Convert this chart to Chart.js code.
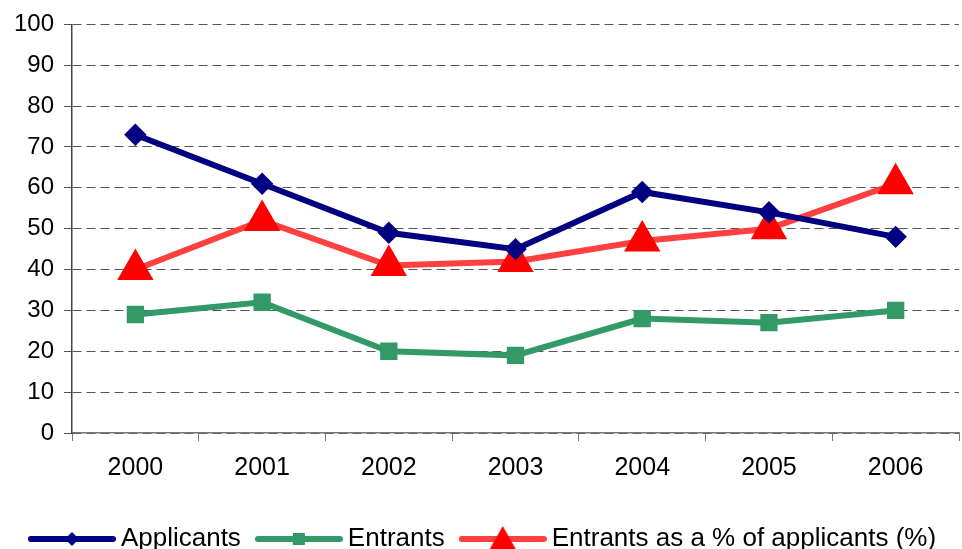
<!DOCTYPE html>
<html><head><meta charset="utf-8">
<script src="https://cdn.jsdelivr.net/npm/chart.js@4.4.1/dist/chart.umd.min.js"></script>
<style>html,body{margin:0;padding:0;background:#fff}#wrap{width:962px;height:549px}</style>
</head><body><div id="wrap"><canvas id="c" width="962" height="549"></canvas></div>
<script>
const categories = ['2000','2001','2002','2003','2004','2005','2006'];
const applicants = [73, 61, 49, 45, 59, 54, 48];
const entrants = [29, 32, 20, 19, 28, 27, 30];
const entrantsPct = [40, 52, 41, 42, 47, 50, 61];
const seriesNames = ['Applicants', 'Entrants', 'Entrants as a % of applicants (%)'];

const FONT = "'Liberation Sans', Arial, sans-serif";

function legendImg(color, markerColor, shape) {
  const c = document.createElement('canvas');
  c.width = 88; c.height = 30;
  const g = c.getContext('2d');
  g.strokeStyle = color; g.lineWidth = 6; g.lineCap = 'round';
  g.beginPath(); g.moveTo(3, 15); g.lineTo(85, 15); g.stroke();
  g.fillStyle = markerColor;
  const cx = 44, cy = 15;
  g.beginPath();
  if (shape === 'diamond') {
    g.moveTo(cx, cy - 7); g.lineTo(cx + 7, cy); g.lineTo(cx, cy + 7); g.lineTo(cx - 7, cy);
  } else if (shape === 'square') {
    g.rect(cx - 6, cy - 6, 12, 12);
  } else {
    g.moveTo(cx, cy - 13); g.lineTo(cx + 13, cy + 10); g.lineTo(cx - 13, cy + 10);
  }
  g.closePath(); g.fill();
  return c;
}

const legendImages = [
  legendImg('#000080', '#000080', 'diamond'),
  legendImg('#339966', '#339966', 'square'),
  legendImg('#ff4040', '#ff0000', 'triangle')
];

new Chart(document.getElementById('c'), {
  type: 'line',
  data: {
    labels: categories,
    datasets: [
      { label: seriesNames[0], data: applicants, borderColor: '#000080', backgroundColor: '#000080',
        borderWidth: 6, pointStyle: 'rectRot', pointRadius: 7, pointHoverRadius: 7, tension: 0 },
      { label: seriesNames[1], data: entrants, borderColor: '#339966', backgroundColor: '#339966',
        borderWidth: 6, pointStyle: 'rect', pointRadius: 8, pointHoverRadius: 8, tension: 0 },
      { label: seriesNames[2], data: entrantsPct, borderColor: '#ff4040', backgroundColor: '#ff0000',
        pointBorderColor: '#ff0000', borderWidth: 6, pointStyle: 'triangle', pointRadius: 15, pointHoverRadius: 15, tension: 0 }
    ]
  },
  options: {
    responsive: false,
    animation: false,
    layout: { autoPadding: false, padding: { left: 13, right: 3, top: 10, bottom: -13 } },
    plugins: {
      tooltip: { enabled: false },
      legend: {
        position: 'bottom',
        labels: {
          font: { family: FONT, size: 26 },
          color: '#000',
          usePointStyle: true,
          pointStyleWidth: 72,
          padding: 22,
          generateLabels: (chart) => chart.data.datasets.map((ds, i) => ({
            text: ds.label, pointStyle: legendImages[i], fillStyle: ds.borderColor,
            strokeStyle: ds.borderColor, lineWidth: 0, hidden: false, datasetIndex: i, fontColor: '#000'
          }))
        }
      }
    },
    scales: {
      x: {
        offset: true,
        afterFit: (s) => { s.height += 9; },
        grid: { offset: true, drawOnChartArea: false, drawTicks: true, tickLength: 8, color: '#777', lineWidth: 1 },
        border: { display: true, color: '#777', width: 1.5 },
        ticks: { font: { family: FONT, size: 25 }, color: '#000', padding: 12, maxRotation: 0 }
      },
      y: {
        min: 0, max: 100,
        afterFit: (s) => { s.width -= 9; },
        grid: { color: '#555', lineWidth: 1, tickBorderDash: [], tickLength: 8, tickColor: '#555' },
        border: { display: true, color: '#444', width: 1.5, dash: [9, 5] },
        ticks: { stepSize: 10, font: { family: FONT, size: 24 }, color: '#000', padding: 10 }
      }
    }
  }
});
</script></body></html>
